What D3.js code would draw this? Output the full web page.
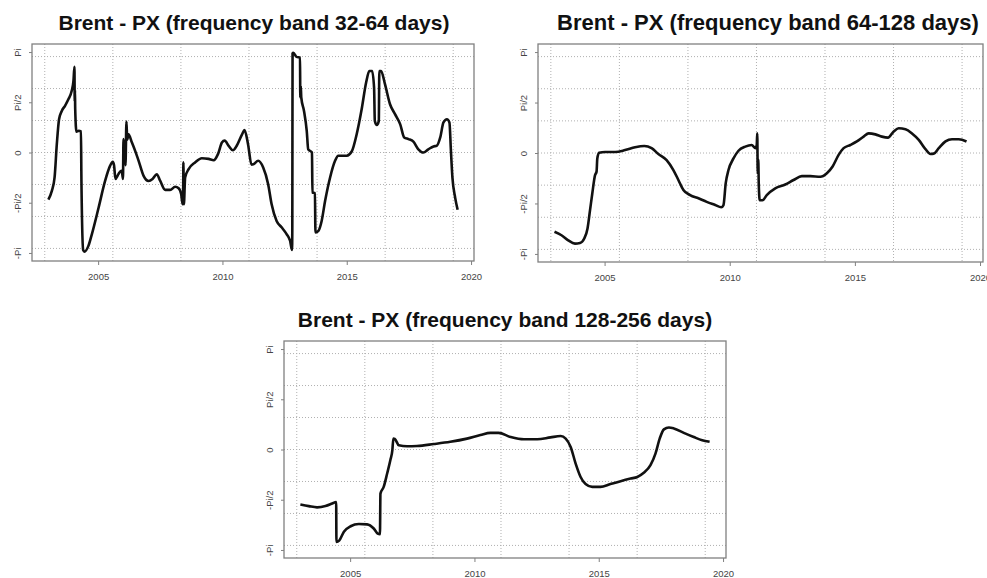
<!DOCTYPE html>
<html>
<head>
<meta charset="utf-8">
<script src="https://cdn.jsdelivr.net/npm/d3@7"></script>
<style>
  html, body { margin: 0; padding: 0; background: #fff; }
  svg { display: block; font-family: "Liberation Sans", Arial, sans-serif; }
</style>
</head>
<body>
<svg id="chart" width="987" height="578"></svg>
<script>
// ---------------- DATA ----------------
const titles = [
  "Brent - PX (frequency band 32-64 days)",
  "Brent - PX (frequency band 64-128 days)",
  "Brent - PX (frequency band 128-256 days)"
];
const dateStart = 2003.0;   // decimal years
const dateEnd = 2019.46;
const xTickYears = [2005, 2010, 2015, 2020];
const yTickValues = [-Math.PI, -Math.PI / 2, 0, Math.PI / 2, Math.PI];
const yTickLabels = ["-Pi", "-Pi/2", "0", "Pi/2", "Pi"];
const yGridValues = [-3, -2, -1, 0, 1, 2, 3];
const xGridDays = [12000, 13000, 14000, 15000, 16000, 17000, 18000];

// [decimal year, phase (radians)]
const band32_64 = [
  [2003.00,-1.47],[2003.14,-1.20],[2003.25,-0.78],[2003.34,0.26],[2003.43,1.04],[2003.54,1.30],
  [2003.67,1.46],[2003.81,1.67],[2003.94,1.93],[2004.01,2.24],[2004.05,2.68],[2004.06,1.60],
  [2004.07,1.95],[2004.08,1.35],[2004.13,0.65],[2004.22,0.68],[2004.31,0.66],[2004.33,-0.90],
  [2004.40,-3.05],[2004.45,-3.10],[2004.61,-2.92],[2004.75,-2.55],[2005.02,-1.72],[2005.28,-0.89],
  [2005.48,-0.42],[2005.59,-0.29],[2005.64,-0.40],[2005.70,-0.83],[2005.78,-0.73],[2005.85,-0.63],
  [2005.95,-0.57],[2006.00,-0.83],[2006.02,0.42],[2006.05,-0.10],[2006.08,0.20],[2006.10,-0.40],
  [2006.14,0.97],[2006.17,0.40],[2006.22,0.57],[2006.36,0.31],[2006.49,0.05],[2006.63,-0.26],
  [2006.83,-0.73],[2007.03,-0.89],[2007.19,-0.83],[2007.36,-0.68],[2007.50,-0.89],[2007.70,-1.17],
  [2007.90,-1.17],[2008.10,-1.07],[2008.24,-1.12],[2008.34,-1.30],[2008.40,-1.62],[2008.42,-1.35],
  [2008.43,-0.31],[2008.45,-1.62],[2008.50,-0.78],[2008.64,-0.52],[2008.90,-0.31],[2009.17,-0.18],
  [2009.44,-0.20],[2009.65,-0.24],[2009.82,-0.05],[2009.98,0.31],[2010.09,0.37],[2010.25,0.21],
  [2010.42,0.07],[2010.58,0.22],[2010.79,0.57],[2010.89,0.70],[2011.03,0.26],[2011.17,-0.38],
  [2011.24,-0.37],[2011.44,-0.26],[2011.64,-0.47],[2011.84,-0.99],[2011.98,-1.62],[2012.18,-2.14],
  [2012.38,-2.34],[2012.58,-2.55],[2012.72,-2.76],[2012.80,-3.05],[2012.81,-2.30],[2012.82,3.10],
  [2012.85,3.12],[2012.98,2.99],[2013.12,2.97],[2013.13,1.72],[2013.15,2.08],[2013.17,1.72],
  [2013.28,1.30],[2013.39,0.68],[2013.45,0.10],[2013.60,0.00],[2013.62,-1.25],[2013.72,-1.27],
  [2013.74,-2.50],[2013.86,-2.45],[2013.99,-2.14],[2014.13,-1.51],[2014.33,-0.78],[2014.53,-0.26],
  [2014.66,-0.10],[2015.00,-0.10],[2015.20,0.03],[2015.40,0.57],[2015.60,1.35],[2015.78,2.19],
  [2015.91,2.55],[2016.02,2.55],[2016.10,2.03],[2016.13,0.99],[2016.21,0.86],[2016.29,0.99],
  [2016.31,2.55],[2016.38,2.55],[2016.54,2.13],[2016.74,1.51],[2016.94,1.20],[2017.15,0.88],
  [2017.31,0.47],[2017.48,0.42],[2017.68,0.34],[2017.88,0.10],[2018.08,0.00],[2018.28,0.10],
  [2018.49,0.19],[2018.62,0.21],[2018.76,0.47],[2018.89,0.94],[2019.03,1.04],[2019.13,0.94],
  [2019.19,0.05],[2019.25,-0.78],[2019.36,-1.41],[2019.46,-1.79]
];

const band64_128 = [
  [2003.00,-2.45],[2003.28,-2.56],[2003.55,-2.72],[2003.82,-2.82],[2004.02,-2.80],[2004.19,-2.66],
  [2004.32,-2.35],[2004.42,-1.78],[2004.51,-1.26],[2004.62,-0.69],[2004.68,-0.58],[2004.71,-0.17],
  [2004.78,0.01],[2005.02,0.03],[2005.42,0.03],[2005.82,0.09],[2006.22,0.18],[2006.59,0.22],
  [2006.88,0.15],[2007.15,-0.03],[2007.48,-0.22],[2007.75,-0.53],[2007.95,-0.84],[2008.15,-1.15],
  [2008.42,-1.31],[2008.75,-1.41],[2009.08,-1.52],[2009.42,-1.62],[2009.66,-1.69],[2009.75,-1.62],
  [2009.84,-0.94],[2009.95,-0.53],[2010.15,-0.17],[2010.35,0.07],[2010.62,0.20],[2010.88,0.25],
  [2011.02,0.15],[2011.08,0.25],[2011.10,0.61],[2011.12,-0.63],[2011.14,-0.20],[2011.16,-0.95],
  [2011.20,-1.47],[2011.31,-1.47],[2011.48,-1.31],[2011.82,-1.10],[2012.22,-0.98],[2012.55,-0.84],
  [2012.88,-0.72],[2013.22,-0.72],[2013.62,-0.74],[2013.88,-0.63],[2014.11,-0.42],[2014.35,-0.06],
  [2014.55,0.15],[2014.82,0.25],[2015.08,0.36],[2015.35,0.51],[2015.55,0.61],[2015.82,0.58],
  [2016.08,0.51],[2016.32,0.48],[2016.55,0.67],[2016.75,0.77],[2017.02,0.74],[2017.28,0.61],
  [2017.55,0.41],[2017.82,0.12],[2018.02,-0.03],[2018.15,-0.02],[2018.35,0.15],[2018.62,0.36],
  [2018.88,0.43],[2019.15,0.43],[2019.46,0.36]
];

const band128_256 = [
  [2003.00,-1.72],[2003.34,-1.77],[2003.67,-1.81],[2004.01,-1.77],[2004.28,-1.69],[2004.44,-1.64],
  [2004.45,-2.89],[2004.56,-2.85],[2004.75,-2.57],[2005.02,-2.40],[2005.35,-2.33],[2005.68,-2.34],
  [2005.95,-2.47],[2006.11,-2.63],[2006.20,-2.65],[2006.22,-1.38],[2006.35,-1.17],[2006.49,-0.75],
  [2006.62,-0.33],[2006.70,-0.02],[2006.74,0.34],[2006.80,0.33],[2006.96,0.13],[2007.29,0.10],
  [2007.69,0.11],[2008.36,0.17],[2009.03,0.24],[2009.70,0.34],[2010.24,0.45],[2010.64,0.52],
  [2010.97,0.52],[2011.46,0.39],[2011.99,0.32],[2012.53,0.32],[2013.06,0.38],[2013.47,0.42],
  [2013.67,0.34],[2013.87,0.08],[2014.07,-0.44],[2014.27,-0.86],[2014.47,-1.08],[2014.74,-1.17],
  [2015.07,-1.17],[2015.47,-1.08],[2015.88,-0.99],[2016.28,-0.91],[2016.55,-0.86],[2016.81,-0.73],
  [2017.08,-0.49],[2017.28,-0.13],[2017.45,0.34],[2017.62,0.63],[2017.82,0.69],[2018.02,0.66],
  [2018.42,0.52],[2018.82,0.39],[2019.16,0.29],[2019.46,0.24]
];

// ---------------- HELPERS ----------------
const DAY = 86400000;
function yearToDate(y) {
  const yr = Math.floor(y);
  const start = Date.UTC(yr, 0, 1), end = Date.UTC(yr + 1, 0, 1);
  return new Date(start + (y - yr) * (end - start));
}

const svg = d3.select("#chart");

const panels = [
  { data: band32_64,   title: titles[0], left: 32,  top: 44,  right: 474, bottom: 261, tx: 254, ty: 30,  fs: 21 },
  { data: band64_128,  title: titles[1], left: 538, top: 44,  right: 983, bottom: 262, tx: 768, ty: 30,  fs: 22 },
  { data: band128_256, title: titles[2], left: 284, top: 341, right: 726, bottom: 558, tx: 505, ty: 327, fs: 21 }
];

const d0 = yearToDate(dateStart), d1 = yearToDate(dateEnd);
const span = d1 - d0;
const xDomain = [new Date(+d0 - 0.04 * span), new Date(+d1 + 0.04 * span)];
const yPad = Math.PI * 0.08;
const yDomain = [-Math.PI - yPad, Math.PI + yPad];

panels.forEach(p => {
  const x = d3.scaleUtc().domain(xDomain).range([p.left, p.right]);
  const y = d3.scaleLinear().domain(yDomain).range([p.bottom, p.top]);
  const g = svg.append("g");

  // grid
  g.append("g").selectAll("line").data(yGridValues).join("line")
    .attr("x1", p.left).attr("x2", p.right)
    .attr("y1", d => y(d)).attr("y2", d => y(d))
    .attr("stroke", "#b0b0b0").attr("stroke-width", 1).attr("stroke-dasharray", "1,2");
  g.append("g").selectAll("line").data(xGridDays).join("line")
    .attr("x1", d => x(new Date(d * DAY))).attr("x2", d => x(new Date(d * DAY)))
    .attr("y1", p.top).attr("y2", p.bottom)
    .attr("stroke", "#b0b0b0").attr("stroke-width", 1).attr("stroke-dasharray", "1,2");

  // line
  const line = d3.line()
    .x(d => x(yearToDate(d[0])))
    .y(d => y(d[1]))
    .curve(d3.curveMonotoneX);
  g.append("path").datum(p.data)
    .attr("d", line)
    .attr("fill", "none").attr("stroke", "#111").attr("stroke-width", 2.6)
    .attr("stroke-linejoin", "round");

  // box
  g.append("rect")
    .attr("x", p.left).attr("y", p.top)
    .attr("width", p.right - p.left).attr("height", p.bottom - p.top)
    .attr("fill", "none").attr("stroke", "#808080").attr("stroke-width", 1.3);

  // x axis
  const xAxis = d3.axisBottom(x)
    .tickValues(xTickYears.map(v => new Date(Date.UTC(v, 0, 1))))
    .tickFormat(d3.utcFormat("%Y"))
    .tickSize(4).tickPadding(8);
  const gx = g.append("g").attr("transform", `translate(0,${p.bottom})`).call(xAxis);
  gx.select(".domain").remove();
  gx.selectAll("line").attr("stroke", "#808080");
  gx.selectAll("text").attr("fill", "#444").style("font-size", "9.5px")
    .style("font-family", "'Liberation Sans', Arial, sans-serif");

  // y axis
  const yAxis = d3.axisLeft(y)
    .tickValues(yTickValues)
    .tickFormat((d, i) => yTickLabels[i])
    .tickSize(3).tickPadding(5);
  const gy = g.append("g").attr("transform", `translate(${p.left},0)`).call(yAxis);
  gy.select(".domain").remove();
  gy.selectAll("line").attr("stroke", "#808080");
  gy.selectAll("text")
    .attr("fill", "#444").style("font-size", "9.5px")
    .style("font-family", "'Liberation Sans', Arial, sans-serif")
    .attr("x", 0).attr("dy", null)
    .attr("text-anchor", "middle")
    .attr("transform", "translate(-11,0) rotate(-90)");

  // title
  svg.append("text")
    .attr("x", p.tx).attr("y", p.ty)
    .attr("text-anchor", "middle")
    .style("font-family", "'Liberation Sans', Arial, sans-serif")
    .style("font-weight", "bold").style("font-size", p.fs + "px")
    .attr("fill", "#111")
    .text(p.title);
});
</script>
</body>
</html>
